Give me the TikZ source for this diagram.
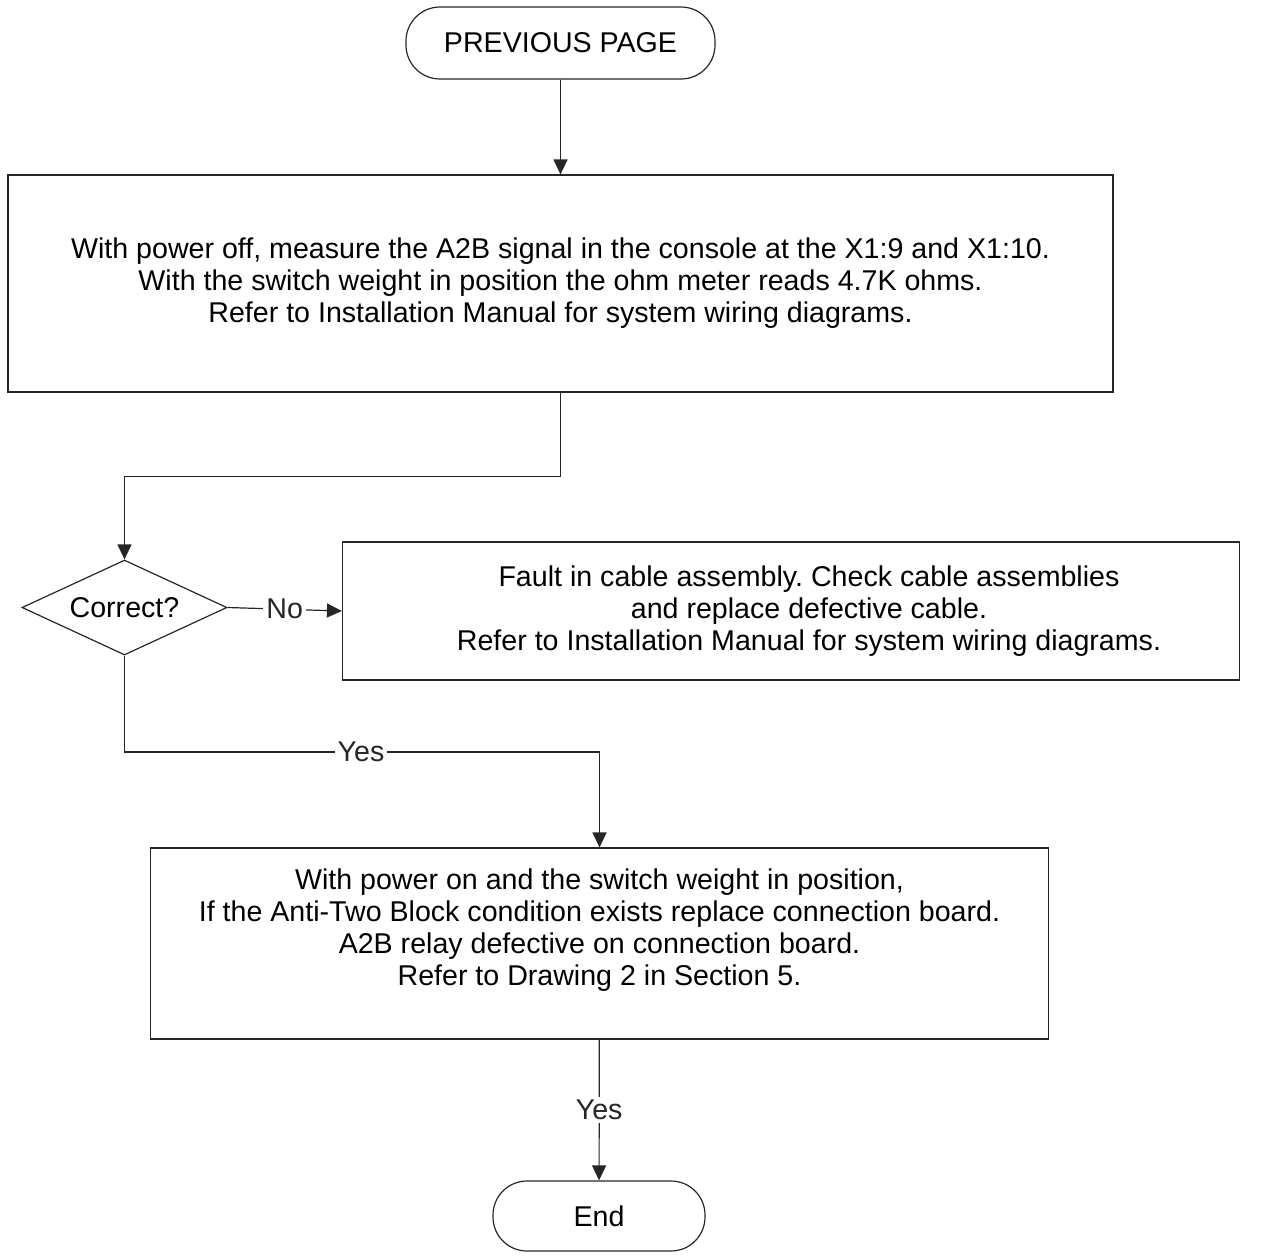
\documentclass[tikz,border=0pt]{standalone}
\usepackage{fontspec}
\setmainfont{Liberation Sans}
\usetikzlibrary{shapes,arrows.meta,positioning}
\frenchspacing

\begin{document}
\begin{tikzpicture}[x=0.5pt, y=-0.5pt,
    every node/.style={font=\fontsize{14.3}{16}\selectfont},
    box/.style={rectangle, draw=black!85, line width=0.6pt, inner sep=0pt,
                align=center},
    term/.style={rectangle, rounded corners=17pt, draw=black!85,
                 line width=0.6pt, inner sep=0pt, align=center},
    decision/.style={diamond, draw=black!85, line width=0.6pt, inner sep=0pt,
                     shape aspect=2.16, minimum width=102.5pt, minimum height=47.5pt},
    arrow/.style={-{Triangle[width=7pt,length=7.5pt]}, line width=0.6pt, black!85},
    lbl/.style={fill=white, inner sep=1.5pt}
]
\useasboundingbox (0,0) rectangle (1269,1255);

% Start
\node[term, minimum width=154.5pt, minimum height=36pt] (prev) at (560.5,43)
    {PREVIOUS PAGE};

% First measurement
\node[box, minimum width=552.5pt, minimum height=108.5pt] (measure) at (560.5,283.5)
    {With power off, measure the A2B signal in the console at the X1:9 and X1:10.\\
     With the switch weight in position the ohm meter reads 4.7K ohms.\\
     Refer to Installation Manual for system wiring diagrams.};

% Decision
\node[decision] (correct) at (124.5,607.5) {Correct?};

% Fault
\node[box, minimum width=448.5pt, minimum height=69pt] (fault) at (791,611)
    {\hspace*{18pt}Fault in cable assembly. Check cable assemblies\\
     \hspace*{18pt}and replace defective cable.\\
     \hspace*{18pt}Refer to Installation Manual for system wiring diagrams.};

% Second check
\node[box, minimum width=449pt, minimum height=95.5pt] (relay) at (599.5,943.5)
    {With power on and the switch weight in position,\\
     If the Anti-Two Block condition exists replace connection board.\\
     A2B relay defective on connection board.\\
     Refer to Drawing 2 in Section 5.\\
     \mbox{}};

% End
\node[term, minimum width=106pt, minimum height=35pt] (end) at (599,1216) {End};

% Arrows
\draw[arrow] (prev) -- (measure);
\draw[arrow] (measure.south) -- ++(0,84) -| (correct.north);
\draw[arrow] (correct.east) -- (fault.west) node[midway, lbl] {No};
\draw[arrow] (correct.south) |- (361,752) node[lbl] {Yes} -| (relay.north);
\draw[arrow] (relay) -- (end) node[midway, lbl] {Yes};

\end{tikzpicture}
\end{document}
